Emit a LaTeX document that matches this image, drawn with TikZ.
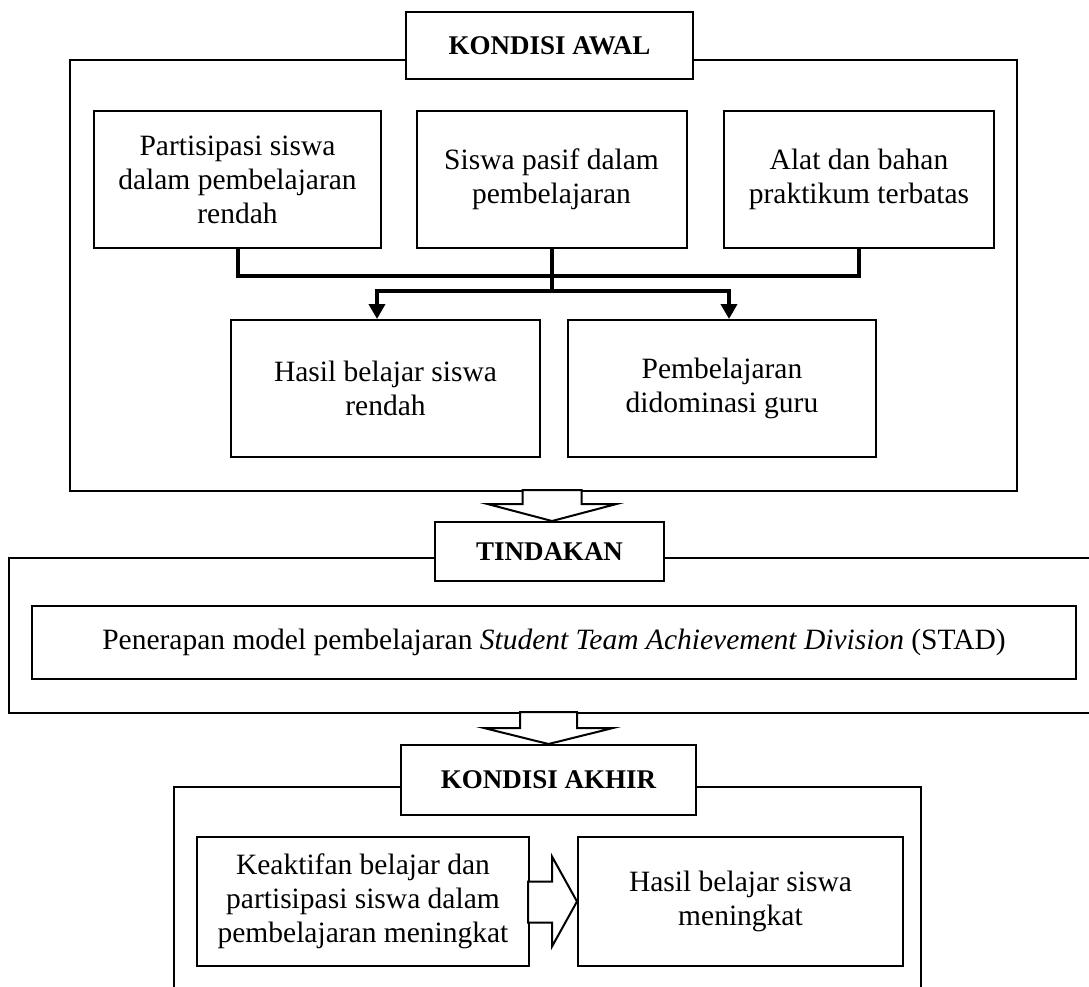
\documentclass[tikz,border=0pt]{standalone}
\usepackage{fontspec}
\setmainfont{Liberation Serif}
\usetikzlibrary{arrows.meta}

\begin{document}
\begin{tikzpicture}[x=1pt,y=-1pt,line width=2pt]
    \tikzstyle{box}=[draw=black,fill=white,align=center,inner sep=0pt,font=\fontsize{29.5}{34}\selectfont]
    \tikzstyle{title}=[box,font=\fontsize{27}{31}\selectfont\bfseries]
    \tikzstyle{bus}=[line width=4pt]
    \tikzstyle{hollow}=[draw=black,fill=white,line width=2pt]
    \useasboundingbox (0,0) rectangle (1089,986);

    \draw (70,60) rectangle (1017,491);
    \draw (9,558) rectangle (1100,713);
    \draw (174,787) rectangle (921,1010);

    \node[title,minimum width=287,minimum height=67] (awal) at (549.5,45.5) {KONDISI AWAL};
    \foreach \n/\x/\w/\t in {1/237.5/287/{Partisipasi siswa\\dalam pembelajaran\\rendah},
                             2/551.5/270/{Siswa pasif dalam\\pembelajaran},
                             3/859/270/{Alat dan bahan\\praktikum terbatas}}
            \node[box,minimum width=\w,minimum height=137] (A-\n) at (\x,179.5) {\t};
    \node[box,minimum width=309,minimum height=137] (B-1) at (385.5,388.5) {Hasil belajar siswa\\rendah};
    \node[box,minimum width=308,minimum height=137] (B-2) at (722,388.5) {Pembelajaran\\didominasi guru};

    \coordinate (J-1) at (551.5,276);
    \coordinate (J-2) at (551.5,291);
    \draw[bus] (A-1.south) |- (J-1) -| (A-3.south);
    \draw[bus] (A-2.south) -- (J-2);
    \draw[bus,-{Triangle[width=16pt,length=15pt]}] (J-2) -| ([xshift=-8.5pt]B-1.north);
    \draw[bus,-{Triangle[width=16pt,length=15pt]}] (J-2) -| ([xshift=7pt]B-2.north);

    \node[title,minimum width=229,minimum height=59] (tindakan) at (549.5,551.5) {TINDAKAN};
    \node[box,minimum width=1044,minimum height=73] (stad) at (554,642.5)
        {Penerapan model pembelajaran \textit{Student Team Achievement Division} (STAD)};
    \draw[hollow] ([xshift=2.5pt]tindakan.north) -- ++(-64.5,-17) -- ++(35,0) -- ++(0,-14)
        -- ++(59,0) -- ++(0,14) -- ++(35,0) -- cycle;

    \node[title,minimum width=295,minimum height=70] (akhir) at (548.5,780) {KONDISI AKHIR};
    \draw[hollow] (akhir.north) -- ++(-64.5,-16) -- ++(36,0) -- ++(0,-16)
        -- ++(57,0) -- ++(0,16) -- ++(36,0) -- cycle;

    \node[box,minimum width=332,minimum height=129] (C-1) at (363,901.5)
        {Keaktifan belajar dan\\partisipasi siswa dalam\\pembelajaran meningkat};
    \node[box,minimum width=325,minimum height=129] (C-2) at (740.5,901.5) {Hasil belajar siswa\\meningkat};
    \draw[hollow] (C-2.west) -- ++(-25,-45) -- ++(0,25) -- ++(-24,0) -- ++(0,41)
        -- ++(24,0) -- ++(0,24) -- cycle;
\end{tikzpicture}
\end{document}
